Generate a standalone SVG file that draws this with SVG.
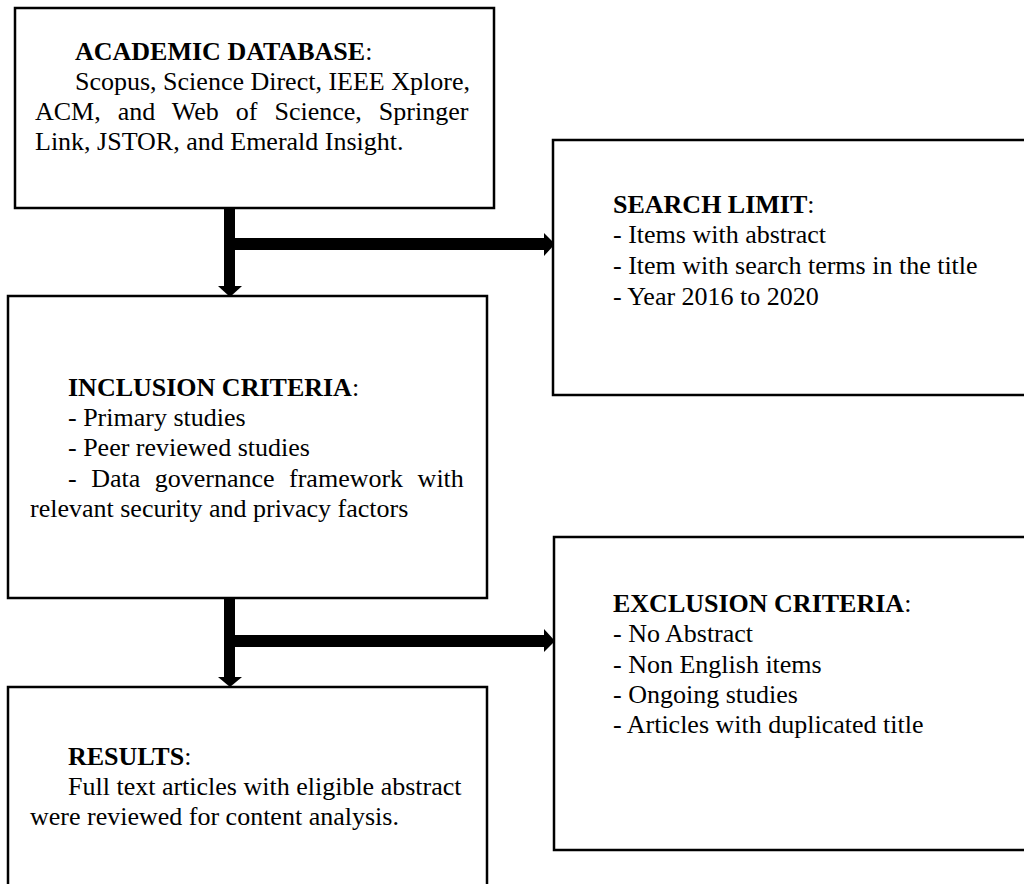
<svg xmlns="http://www.w3.org/2000/svg" width="1024" height="884" viewBox="0 0 1024 884">
<style>
  .box { fill: #fff; stroke: #000; stroke-width: 2.5; }
  text { font-family: "Liberation Serif", "Times New Roman", serif; font-size: 26px; fill: #000; }
  .b { font-weight: bold; }
  .arrow { fill: #000; stroke: none; }
</style>
<rect width="1024" height="884" fill="#fff"/>
<g id="connectors">
  <rect class="arrow" x="224" y="208" width="11" height="79"/>
  <polygon class="arrow" points="218,286 242,286 230,297"/>
  <rect class="arrow" x="235" y="238" width="310" height="12"/>
  <polygon class="arrow" points="544,233 544,256 555,244"/>
  <rect class="arrow" x="224" y="598" width="11" height="80"/>
  <polygon class="arrow" points="218,677 242,677 230,687"/>
  <rect class="arrow" x="235" y="635" width="310" height="12"/>
  <polygon class="arrow" points="544,629 544,652 555,641"/>
</g>
<g id="academic-database">
  <rect class="box" x="15" y="8" width="479" height="200"/>
  <text x="75" y="60"><tspan class="b">ACADEMIC DATABASE</tspan>:</text>
  <text x="75" y="90">Scopus, Science Direct, IEEE Xplore,</text>
  <text x="35" y="120" word-spacing="10.5">ACM, and Web of Science, Springer</text>
  <text x="35" y="150">Link, JSTOR, and Emerald Insight.</text>
</g>
<g id="search-limit">
  <rect class="box" x="553" y="140" width="474" height="255"/>
  <text x="613" y="213"><tspan class="b">SEARCH LIMIT</tspan>:</text>
  <text x="613" y="243">- Items with abstract</text>
  <text x="613" y="274">- Item with search terms in the title</text>
  <text x="613" y="305">- Year 2016 to 2020</text>
</g>
<g id="inclusion-criteria">
  <rect class="box" x="8" y="296" width="479" height="302"/>
  <text x="68" y="396"><tspan class="b">INCLUSION CRITERIA</tspan>:</text>
  <text x="68" y="426">- Primary studies</text>
  <text x="68" y="456">- Peer reviewed studies</text>
  <text x="68" y="487" word-spacing="8">- Data governance framework with</text>
  <text x="30" y="517">relevant security and privacy factors</text>
</g>
<g id="exclusion-criteria">
  <rect class="box" x="554" y="537" width="473" height="313"/>
  <text x="613" y="612"><tspan class="b">EXCLUSION CRITERIA</tspan>:</text>
  <text x="613" y="642">- No Abstract</text>
  <text x="613" y="673">- Non English items</text>
  <text x="613" y="703">- Ongoing studies</text>
  <text x="613" y="733">- Articles with duplicated title</text>
</g>
<g id="results">
  <rect class="box" x="8" y="687" width="479" height="210"/>
  <text x="68" y="765"><tspan class="b">RESULTS</tspan>:</text>
  <text x="68" y="795">Full text articles with eligible abstract</text>
  <text x="30" y="825">were reviewed for content analysis.</text>
</g>
</svg>
